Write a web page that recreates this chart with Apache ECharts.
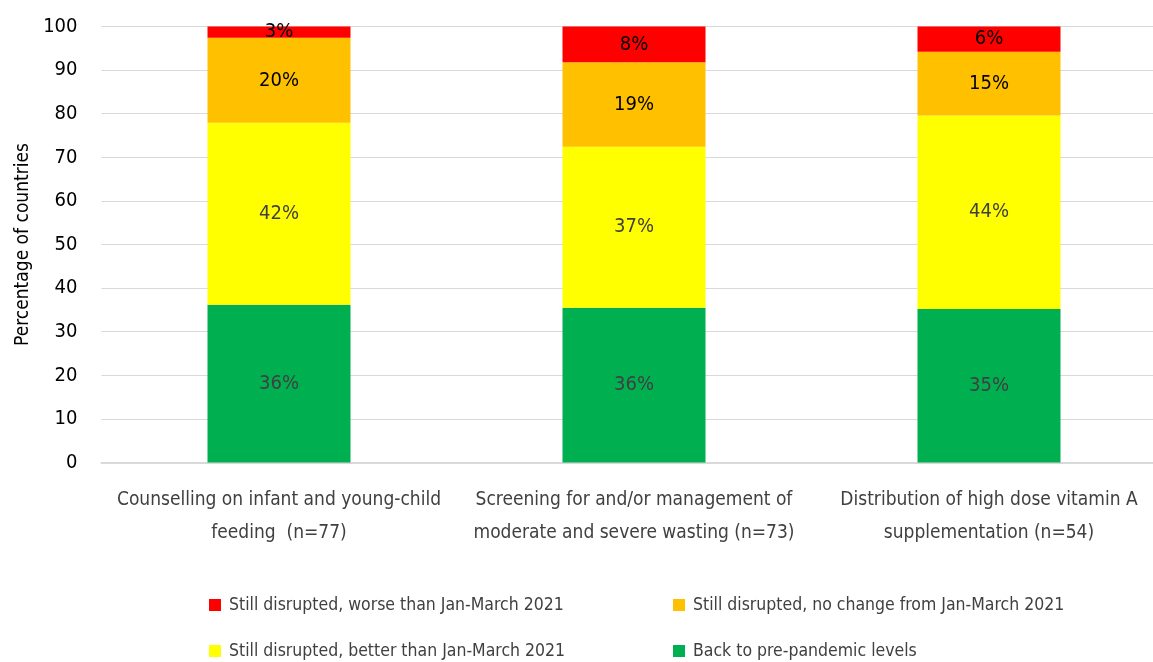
<!DOCTYPE html>
<html>
<head>
<meta charset="utf-8">
<script src="https://cdn.jsdelivr.net/npm/echarts@6/dist/echarts.min.js"></script>
<style>
  html, body { margin: 0; padding: 0; background: #fff; }
  #chart { width: 1153px; height: 662px; }
</style>
</head>
<body>
<div id="chart"></div>
<script>
// categories on the x axis
const categories = [
  "Counselling on infant and young-child\nfeeding  (n=77)",
  "Screening for and/or management of\nmoderate and severe wasting (n=73)",
  "Distribution of high dose vitamin A\nsupplementation (n=54)"
];

// segment heights (percent of countries)
const backToNormal = [36.2, 35.5, 35.2];
const betterThan = [41.7, 36.9, 44.4];
const noChange = [19.5, 19.4, 14.6];
const worseThan = [2.6, 8.2, 5.8];

// printed labels
const backLabels = ["36%", "36%", "35%"];
const betterLabels = ["42%", "37%", "44%"];
const noChangeLabels = ["20%", "19%", "15%"];
const worseLabels = ["3%", "8%", "6%"];

const yTicks = [0, 10, 20, 30, 40, 50, 60, 70, 80, 90, 100];

const names = {
  worse: "Still disrupted, worse than Jan-March 2021",
  same: "Still disrupted, no change from Jan-March 2021",
  better: "Still disrupted, better than Jan-March 2021",
  back: "Back to pre-pandemic levels"
};

const font = "'Liberation Sans Narrow', 'DejaVu Sans Condensed', 'Arial Narrow', sans-serif";

const myChart = echarts.init(document.getElementById("chart"), null, { renderer: "canvas" });

function seg (name, values, labels, color, labelColor) {
  return {
    type: "bar",
    name: name,
    stack: "total",
    barWidth: 143,
    data: values,
    itemStyle: { color: color },
    label: {
      show: true,
      position: "inside",
      fontFamily: font,
      fontSize: 20,
      color: labelColor,
      formatter: function (p) { return labels[p.dataIndex]; }
    },
    emphasis: { disabled: true }
  };
}

function legendItem (name, left, top) {
  return {
    data: [name],
    left: left,
    top: top,
    icon: "rect",
    itemWidth: 12,
    itemHeight: 12,
    itemGap: 0,
    textStyle: { fontFamily: font, fontSize: 17.5, color: "#404040", padding: [0, 0, 0, 3] }
  };
}

let option = {
  animation: false,
  backgroundColor: "#fff",
  grid: {
    left: 101.5,
    right: -13.5,
    top: 26.5,
    bottom: 199.5,
    containLabel: false,
    outerBoundsMode: "none"
  },
  legend: [
    legendItem(names.worse, 204, 591),
    legendItem(names.same, 668, 591),
    legendItem(names.better, 204, 637),
    legendItem(names.back, 668, 637)
  ],
  xAxis: {
    type: "category",
    data: categories,
    axisTick: { show: false },
    axisLine: { lineStyle: { color: "#d9d9d9", width: 2 } },
    axisLabel: {
      fontFamily: font,
      fontSize: 19,
      color: "#404040",
      lineHeight: 33,
      margin: 21,
      interval: 0
    }
  },
  yAxis: {
    type: "value",
    min: 0,
    max: 100,
    interval: 10,
    name: "Percentage of countries",
    nameLocation: "middle",
    nameGap: 68,
    nameTextStyle: { fontFamily: font, fontSize: 19, color: "#000" },
    axisLine: { show: false },
    axisTick: { show: false },
    axisLabel: {
      fontFamily: font,
      fontSize: 20,
      color: "#000",
      margin: 24,
      formatter: function (v) { return yTicks.indexOf(v) >= 0 ? String(v) : ""; }
    },
    splitLine: { lineStyle: { color: "#d9d9d9", width: 1 } }
  },
  series: [
    seg(names.back, backToNormal, backLabels, "#00b050", "#404040"),
    seg(names.better, betterThan, betterLabels, "#ffff00", "#404040"),
    seg(names.same, noChange, noChangeLabels, "#ffc000", "#000"),
    seg(names.worse, worseThan, worseLabels, "#ff0000", "#000")
  ]
};

myChart.setOption(option);
</script>
</body>
</html>
